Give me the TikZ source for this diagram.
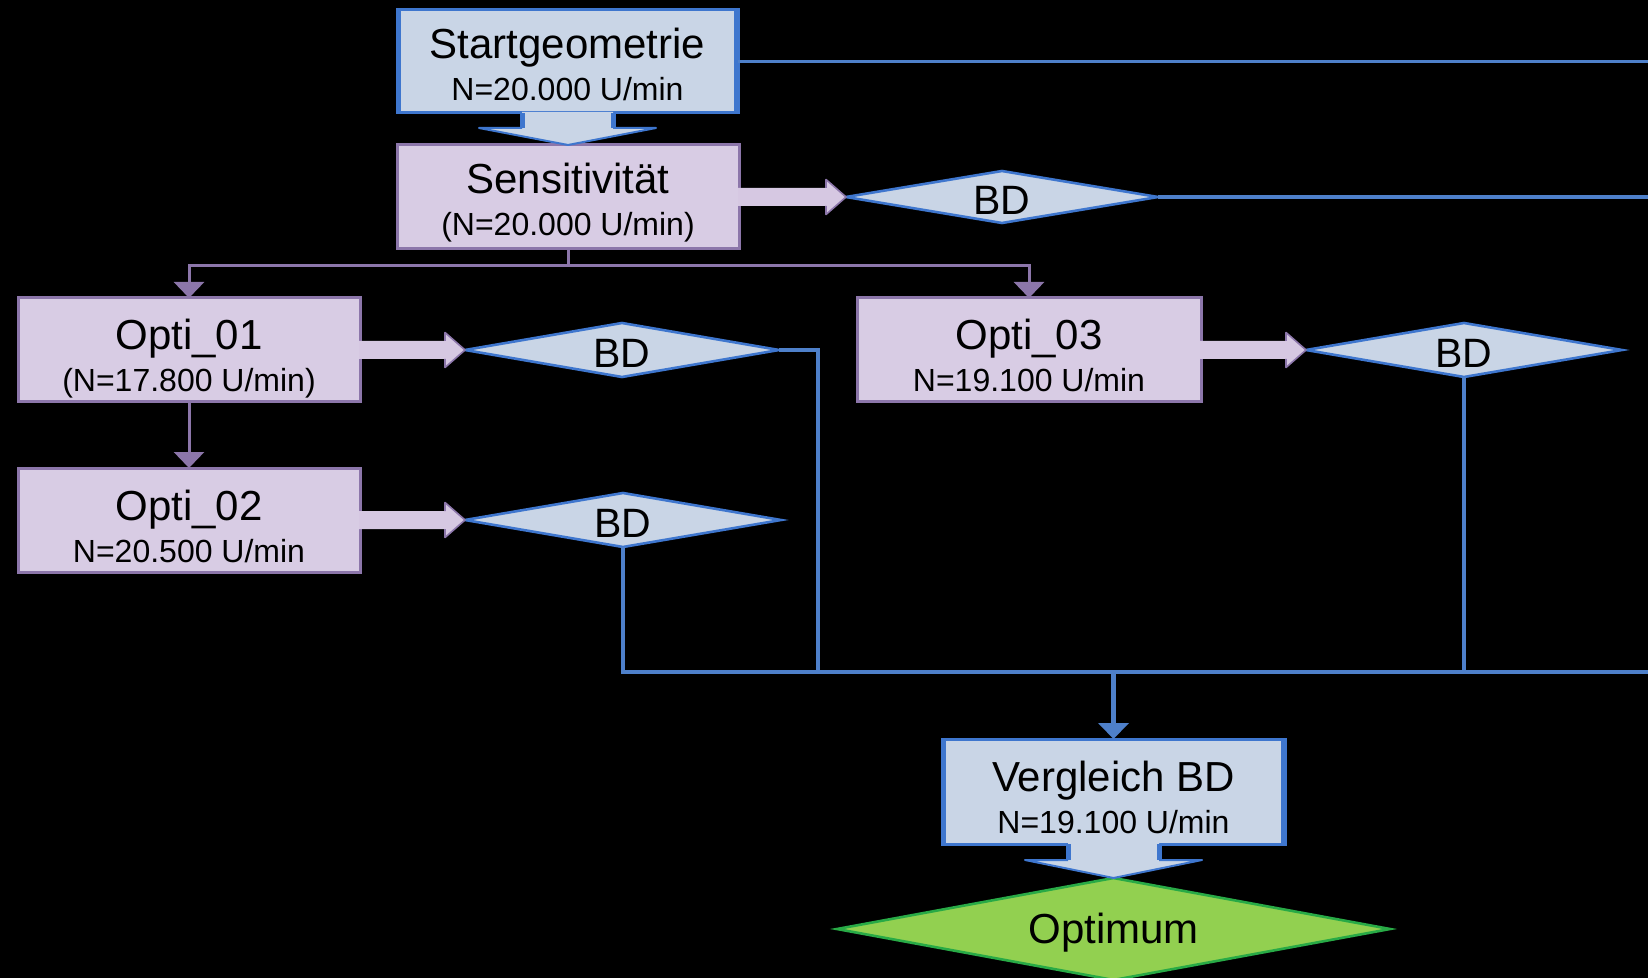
\documentclass[tikz,border=0pt]{standalone}
\usepackage{fontspec}
\setmainfont{Liberation Sans}
\usetikzlibrary{shapes.geometric,arrows.meta,calc}
\definecolor{lblue}{RGB}{201,213,230}
\definecolor{bblue}{RGB}{62,118,206}
\definecolor{lineblue}{RGB}{78,128,202}
\definecolor{lpurp}{RGB}{216,204,228}
\definecolor{dpurp}{RGB}{140,118,170}
\definecolor{pafill}{RGB}{214,200,226}
\definecolor{ogreen}{RGB}{146,208,80}
\definecolor{dgreen}{RGB}{40,170,70}
\newcommand{\smallline}{\fontsize{16}{20.5}\selectfont}
\newcommand{\topl}{\rule{0pt}{22pt}}
\newcommand{\toplo}{\rule{0pt}{25pt}}
\newcommand{\botl}{\rule[-4pt]{0pt}{0pt}}
\newcommand{\harrowblk}[2]{%
  \fill[pafill] ($(#1.east)+(-1,-9)$) -- ($(#2.west)+(-20,-9)$) -- ($(#2.west)+(-20,-17.5)$) -- (#2.west) -- ($(#2.west)+(-20,17.5)$) -- ($(#2.west)+(-20,9)$) -- ($(#1.east)+(-1,9)$) -- cycle;
  \draw[dpurp, line width=0.8pt, line join=round] ($(#2.west)+(-20,-9)$) -- ($(#2.west)+(-20,-17.5)$) -- (#2.west) -- ($(#2.west)+(-20,17.5)$) -- ($(#2.west)+(-20,9)$);
}
\newcommand{\varrowblk}[3]{%
  \fill[lblue] ($(#1.south)+(-45.5,-1)$) -- ($(#1.south)+(-45.5,#3)$) -- ($(#1.south)+(-88.5,#3)$) -- (#2.north) -- ($(#1.south)+(88.5,#3)$) -- ($(#1.south)+(45.5,#3)$) -- ($(#1.south)+(45.5,-1)$) -- cycle;
  \draw[bblue, line width=2.5pt] ($(#1.south)+(-45.5,0)$) -- ($(#1.south)+(-45.5,#3)$) ($(#1.south)+(45.5,0)$) -- ($(#1.south)+(45.5,#3)$);
  \draw[bblue, line width=1pt, line join=round] ($(#1.south)+(-45.5,#3)$) -- ($(#1.south)+(-88.5,#3)$) -- (#2.north) -- ($(#1.south)+(88.5,#3)$) -- ($(#1.south)+(45.5,#3)$);
}
\begin{document}
\begin{tikzpicture}[x=0.5pt,y=-0.5pt,
  bbox/.style={rectangle, fill=lblue, draw=bblue, line width=1.5pt, outer sep=0pt, inner sep=0pt,
    align=center, font=\fontsize{21}{21}\selectfont,
    path picture={\draw[bblue, line width=4pt] (path picture bounding box.north west) -- (path picture bounding box.south west) (path picture bounding box.north east) -- (path picture bounding box.south east);}},
  pbox/.style={rectangle, fill=lpurp, draw=dpurp, line width=1.5pt, outer sep=0pt, inner sep=0pt,
    align=center, font=\fontsize{21}{21}\selectfont, minimum width=171pt, minimum height=52pt},
  bdiam/.style={diamond, fill=lblue, draw=bblue, line width=1.3pt, outer sep=0pt, inner sep=0pt,
    minimum width=157pt, minimum height=27pt,
    label={[font=\fontsize{20.5}{20.5}\selectfont, yshift=-1.8pt]center:BD}},
  bline/.style={lineblue, line width=1.6pt},
  pline/.style={dpurp, line width=1.5pt, -{Triangle[width=15pt,length=8pt]}}
]
\useasboundingbox (0,0) rectangle (1648,978);
\fill[black] (0,0) rectangle (1648,978);
\clip (0,0) rectangle (1648,978);

% nodes
\node[bbox, minimum width=170.5pt, minimum height=51.5pt] (start) at (567.5,61.5) {\topl Startgeometrie\\\smallline N=20.000 U/min\botl};
\node[pbox] (sens) at (568,197) {\topl Sensitivität\\\smallline (N=20.000 U/min)\botl};
\node[pbox] (opt1) at (189,350) {\toplo Opti\_01\\\smallline (N=17.800 U/min)\botl};
\node[pbox] (opt2) at (189,520) {\toplo Opti\_02\\\smallline N=20.500 U/min\botl};
\node[pbox, minimum width=172pt] (opt3) at (1029,350) {\toplo Opti\_03\\\smallline N=19.100 U/min\botl};
\node[bbox, minimum width=171.5pt, minimum height=52.5pt] (verg) at (1113.5,791.5) {\toplo Vergleich BD\\\smallline N=19.100 U/min\botl};
\node[bdiam, minimum width=156pt, minimum height=26pt] (bd1) at (1002,197) {};
\node[bdiam] (bd2) at (622,350) {};
\node[bdiam, minimum width=158pt] (bd3) at (623,520) {};
\node[bdiam, minimum width=158pt] (bd4) at (1464,350) {};
\node[diamond, fill=ogreen, draw=dgreen, line width=1.3pt, outer sep=0pt, inner sep=0pt,
  minimum width=276.5pt, minimum height=51pt,
  label={[font=\fontsize{21}{21}\selectfont, yshift=-2pt]center:Optimum}] (optm) at (1113.5,929) {};

% free ends
\coordinate (r1) at (1648,61.5);
\coordinate (r2) at (1648,197);
\coordinate (busR) at (1648,672);
\coordinate (j2) at (818,672);
\coordinate (jv) at (1113.5,672);

% block arrows
\varrowblk{start}{sens}{15}
\varrowblk{verg}{optm}{16}
\harrowblk{sens}{bd1}
\harrowblk{opt1}{bd2}
\harrowblk{opt2}{bd3}
\harrowblk{opt3}{bd4}

% purple connectors
\draw[pline] (sens.south) -- ++(0,17) -| (opt1.north);
\draw[pline] (sens.south) -- ++(0,17) -| (opt3.north);
\draw[pline] (opt1.south) -- (opt2.north);

% blue connectors
\draw[bline] (start.east) -- (r1);
\draw[bline] (bd1.east) -- (r2);
\draw[bline] (bd2.east) -| (j2);
\draw[bline] (bd3.south) |- (busR);
\draw[bline] (bd4.south) -- (bd4.south |- busR);
\draw[bline, line width=2.6pt, -{Triangle[width=15pt,length=8pt]}] (jv) -- (verg.north);
\end{tikzpicture}
\end{document}
